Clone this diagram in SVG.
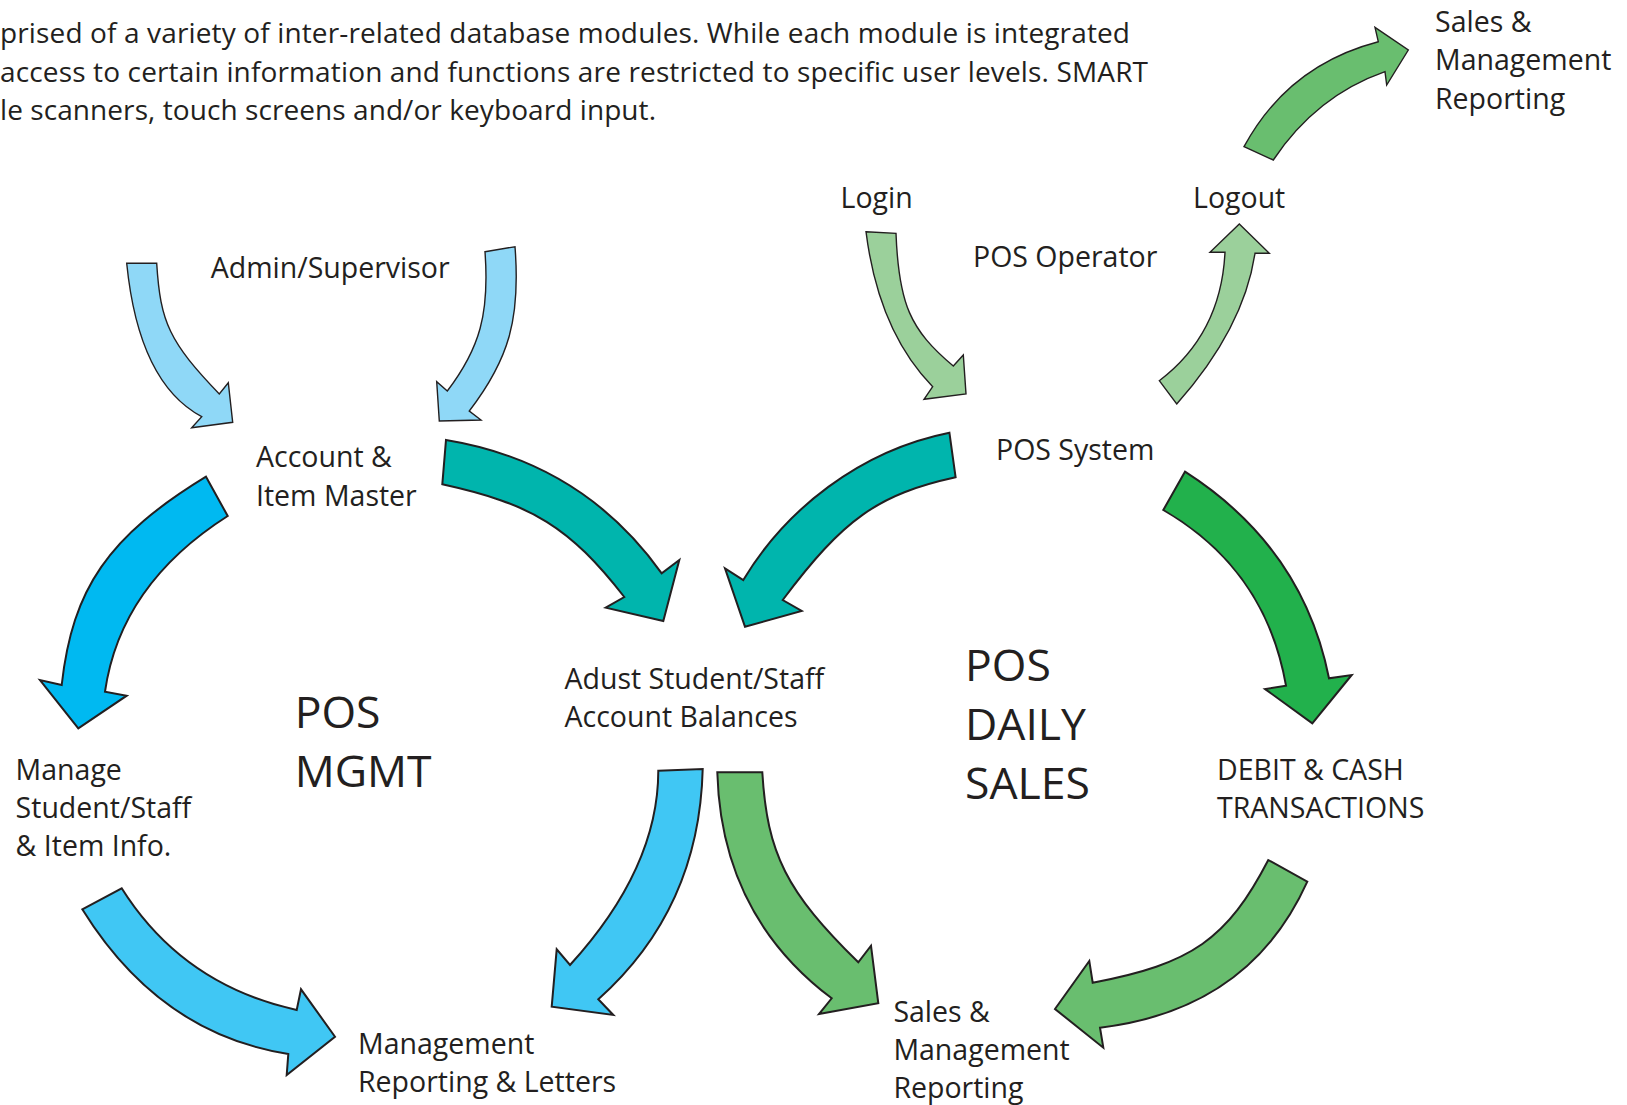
<svg xmlns="http://www.w3.org/2000/svg" width="1627" height="1105" viewBox="0 0 1627 1105">
<style>
text{font-family:"Open Sans","Noto Sans","DejaVu Sans",sans-serif;fill:#231f20;}
.lbl{font-size:28.5px;}
.big{font-size:44.5px;}
.para{font-size:28px;}
.arr{stroke:#231f20;stroke-width:2;stroke-linejoin:miter;}
.thin{stroke-width:1.4;}
.lblue{fill:#8fd8f7;}
.bblue{fill:#00b9f1;}
.sblue{fill:#40c7f4;}
.teal{fill:#00b5ad;}
.dgreen{fill:#22b14c;}
.lgreen{fill:#9bd09b;}
.green{fill:#69be6f;}
</style>
<rect width="1627" height="1105" fill="#ffffff"/>
<g id="intro">
<text class="para" x="0" y="43" textLength="1130" lengthAdjust="spacing">prised of a variety of inter-related database modules. While each module is integrated</text>
<text class="para" x="0" y="81.5" textLength="1148" lengthAdjust="spacing">access to certain information and functions are restricted to specific user levels. SMART</text>
<text class="para" x="0" y="120" textLength="656" lengthAdjust="spacing">le scanners, touch screens and/or keyboard input.</text>
</g>
<g id="connectors">
<path id="a-admin-left" class="arr thin lblue" d="M126.7,263.3 L156.7,263.3 C160.3,322.7 169.7,342.3 219.3,394 L228.3,382.7 L232.7,422.3 L191.7,427.7 L201.7,416.7 Q138.7,383.1 126.7,263.3 Z"/>
<path id="a-admin-right" class="arr thin lblue" d="M485,251.7 L515,246.7 C520.6,318.3 509.1,359.3 469.3,411 L481,420 L439.3,421 L436.7,381.7 L447.3,391 C480.1,347.9 489.5,313.1 485,251.7 Z"/>
<path id="a-master-adjust" class="arr teal" d="M446,440 Q582.5,462.4 661.7,573.3 L679.3,560 L663.3,621 L605.7,607.7 L624.3,597 C569.3,526.8 532.9,504.2 442.3,484.3 Z"/>
<path id="a-system-adjust" class="arr teal" d="M949.4,432.7 L955.6,477.3 C878.1,494.3 843.5,518.9 782.7,600 L801.7,611 L745,626.7 L725,568.3 L743.3,580 C785.3,510 859.4,450.7 949.4,432.7 Z"/>
<path id="a-master-manage" class="arr bblue" d="M206,476.7 L227.7,516 Q120.3,584.4 105,691.7 L126.7,695.7 L78.3,728.3 L40,680 L61.7,685 C72.4,588.3 108.5,536.2 206,476.7 Z"/>
<path id="a-system-debit" class="arr dgreen" d="M1185,471.7 Q1302.8,547.1 1329,678.3 L1351.7,675 L1312.3,723.3 L1265,689 L1286,685.7 Q1265.7,569.4 1163.3,510 Z"/>
<path id="a-login-system" class="arr thin lgreen" d="M866,231.7 L896,233.3 C898.6,303.4 910,329.9 953.3,366 L963.3,355 L966,394 L924,399.3 L932.7,386.7 Q878.5,331.1 866,231.7 Z"/>
<path id="a-system-logout" class="arr thin lgreen" d="M1159.3,380.7 L1176.7,404 Q1243.7,328.7 1255,253.3 L1269.3,253.3 L1239.3,224 L1210,252.3 L1225,252.3 Q1221,334 1159.3,380.7 Z"/>
<path id="a-logout-reporting" class="arr thin green" d="M1244,146.7 L1273.3,160 Q1316.4,95.7 1385,71.7 L1386.7,85 L1408.3,50 L1375,27.3 L1378.3,41.7 Q1288.1,65.2 1244,146.7 Z"/>
<path id="a-manage-mgmtrep" class="arr sblue" d="M121.7,888.3 Q182.5,984.9 296.7,1010 L301,989.3 L335,1036.7 L286.7,1075 L288.3,1054 Q159.5,1033.8 82.3,909.3 Z"/>
<path id="a-adjust-mgmtrep" class="arr sblue" d="M658.3,770.7 L702.7,769 Q699.3,909.1 598.3,999.3 L613.3,1015 L551.7,1006.7 L556.7,949.3 L570,965 Q658.3,868 658.3,770.7 Z"/>
<path id="a-adjust-salesrep" class="arr green" d="M717.3,772.3 L762.3,772.3 C767.2,853.8 786.4,891.8 858.3,962.3 L871,945.7 L878.3,1003.3 L819,1014 L831.7,998.3 Q721.2,915.2 717.3,772.3 Z"/>
<path id="a-debit-salesrep" class="arr green" d="M1268.3,860 L1307.3,881.7 Q1249.7,1009.7 1100,1027.7 L1103.3,1047.7 L1055,1009 L1089.3,961 L1092.7,982.7 C1192,963.8 1227.1,939.3 1268.3,860 Z"/>
</g>
<g id="n-sales-top"><text class="lbl" x="1435" y="31.5">Sales &amp;</text><text class="lbl" x="1435" y="70">Management</text><text class="lbl" x="1435" y="108.5">Reporting</text></g>
<g id="n-login"><text class="lbl" x="840.5" y="208.3">Login</text></g>
<g id="n-logout"><text class="lbl" x="1193" y="208.3">Logout</text></g>
<g id="n-operator"><text class="lbl" x="973" y="266.7">POS Operator</text></g>
<g id="n-admin"><text class="lbl" x="210.7" y="278.3">Admin/Supervisor</text></g>
<g id="n-master"><text class="lbl" x="256" y="467.3">Account &amp;</text><text class="lbl" x="256" y="506">Item Master</text></g>
<g id="n-system"><text class="lbl" x="996" y="459.7">POS System</text></g>
<g id="n-adjust"><text class="lbl" x="564.5" y="688.5">Adust Student/Staff</text><text class="lbl" x="564.5" y="727.4">Account Balances</text></g>
<g id="n-posmgmt"><text class="big" x="294.7" y="728">POS</text><text class="big" x="294.7" y="786.8">MGMT</text></g>
<g id="n-posdaily"><text class="big" x="965" y="681.3">POS</text><text class="big" x="965" y="740.3">DAILY</text><text class="big" x="965" y="798.7">SALES</text></g>
<g id="n-manage"><text class="lbl" x="15.6" y="779.6">Manage</text><text class="lbl" x="15.6" y="817.8">Student/Staff</text><text class="lbl" x="15.6" y="856">&amp; Item Info.</text></g>
<g id="n-debit"><text class="lbl" x="1217" y="779.6">DEBIT &amp; CASH</text><text class="lbl" x="1217" y="817.8">TRANSACTIONS</text></g>
<g id="n-mgmtrep"><text class="lbl" x="358" y="1053.5">Management</text><text class="lbl" x="358" y="1091.6">Reporting &amp; Letters</text></g>
<g id="n-salesrep"><text class="lbl" x="893.4" y="1021.8">Sales &amp;</text><text class="lbl" x="893.4" y="1059.6">Management</text><text class="lbl" x="893.4" y="1097.8">Reporting</text></g>
</svg>
